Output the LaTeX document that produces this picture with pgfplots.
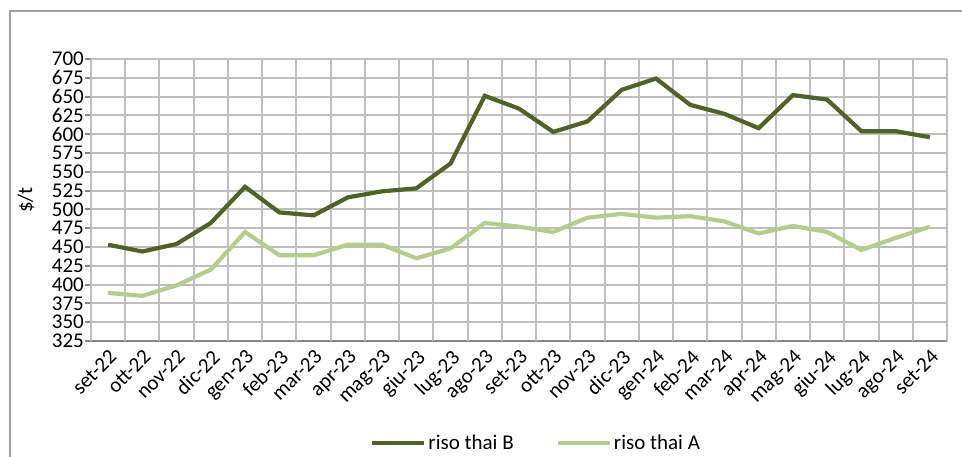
\documentclass[border=0pt]{standalone}
\usepackage{fontspec}
\setmainfont{Carlito}
\usepackage{pgfplots}
\pgfplotsset{compat=1.18}
\definecolor{thaiB}{HTML}{4F6228}
\definecolor{thaiA}{HTML}{B4CC8E}
\definecolor{gridgray}{HTML}{BEBEBE}
\definecolor{axisgray}{HTML}{878787}
\newcommand\lbl{\fontsize{21}{25}\selectfont}

\begin{document}
\begin{tikzpicture}[x=1pt,y=1pt]
\path[use as bounding box] (0,0) rectangle (962,457);
\draw[axisgray!80, line width=2pt] (10,0) -- (10,446) -- (962,446);
\begin{axis}[
    at={(91pt,116pt)}, anchor=south west,
    scale only axis, width=856pt, height=282pt,
    xmin=-0.5, xmax=24.5, ymin=325, ymax=700,
    ytick={325,350,...,700},
    xtick={0,...,24},
    xticklabels={set-22,ott-22,nov-22,dic-22,gen-23,feb-23,mar-23,apr-23,mag-23,giu-23,lug-23,ago-23,set-23,ott-23,nov-23,dic-23,gen-24,feb-24,mar-24,apr-24,mag-24,giu-24,lug-24,ago-24,set-24},
    extra x ticks={-0.5,0.5,1.5,2.5,3.5,4.5,5.5,6.5,7.5,8.5,9.5,10.5,11.5,12.5,13.5,14.5,15.5,16.5,17.5,18.5,19.5,20.5,21.5,22.5,23.5,24.5},
    extra x tick labels={},
    extra x tick style={xmajorgrids=true, major tick length=6pt,
        tick style={axisgray, line width=2pt}},
    ymajorgrids,
    grid style={gridgray, line width=2pt},
    axis x line*=bottom, axis y line*=left,
    axis line style={axisgray, line width=2pt, -},
    tick align=outside,
    major tick length=6pt,
    major x tick style={draw=none},
    tick style={axisgray, line width=2pt},
    /pgf/number format/assume math mode=true,
    tick label style={font=\lbl, text=black},
    yticklabel style={anchor=east, inner sep=1pt},
    xticklabel style={rotate=45, anchor=north east, inner sep=1pt},
    ylabel={\$/t}, label style={font=\lbl},
    ylabel style={at={(axis description cs:-0.076,0.5)}, anchor=center},
    legend columns=2,
    legend style={draw=none, fill=none, font=\lbl,
        at={(axis description cs:0.52,-0.362)}, anchor=center,
        /tikz/every even column/.append style={column sep=40pt}},
    legend image code/.code={\draw[#1] (0pt,0pt) -- (52pt,0pt);},
]
\addplot[thaiB, line width=4.2pt] coordinates {
(0,453) (1,444) (2,454) (3,482) (4,530) (5,496) (6,492) (7,516) (8,524)
(9,528) (10,561) (11,651) (12,634) (13,603) (14,617) (15,659) (16,674)
(17,639) (18,627) (19,608) (20,652) (21,646) (22,604) (23,604) (24,596)};
\addplot[thaiA, line width=4.2pt] coordinates {
(0,389) (1,385) (2,399) (3,420) (4,470) (5,439) (6,439) (7,453) (8,453)
(9,435) (10,448) (11,482) (12,477) (13,470) (14,489) (15,494) (16,489)
(17,491) (18,484) (19,468) (20,478) (21,470) (22,446) (23,462) (24,477)};
\legend{riso thai B, riso thai A}
\end{axis}
\end{tikzpicture}
\end{document}
